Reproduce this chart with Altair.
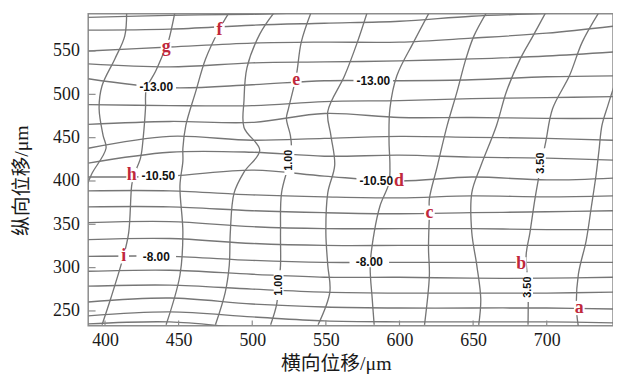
import altair as alt
import pandas as pd

X_TICKS = [400, 450, 500, 550, 600, 650, 700]
Y_TICKS = [250, 300, 350, 400, 450, 500, 550]
X_DOMAIN = [388.6, 745.0]
Y_DOMAIN = [233.0, 593.0]

# Horizontal contours (longitudinal displacement levels); y read at shared x stations
H_LEVELS = [-15.0, -14.5, -14.0, -13.5, -13.0, -12.5, -12.0, -11.5, -11.0, -10.5,
            -10.0, -9.5, -9.0, -8.5, -8.0, -7.5, -7.0, -6.5, -6.0, -5.5]
H_X = [388.6, 444, 500, 549, 600, 649, 700, 745]
H_Y = [
    [588.9, 591.2, 592.4, 594.7, 597.0, 599.3, 601.5, 603.8],
    [574.1, 575.2, 579.8, 582.1, 584.4, 590.1, 593.5, 597.0],
    [550.0, 554.6, 559.2, 560.3, 560.3, 564.9, 570.6, 578.6],
    [535.1, 531.7, 536.3, 537.4, 538.6, 540.9, 544.3, 548.9],
    [518.0, 507.6, 511.1, 515.7, 515.7, 516.8, 520.3, 521.4],
    [488.2, 487.0, 487.0, 491.6, 492.8, 495.1, 496.2, 497.4],
    [465.3, 468.7, 467.6, 477.9, 473.3, 473.3, 472.2, 472.2],
    [437.8, 451.5, 447.0, 449.2, 451.5, 450.4, 449.2, 447.0],
    [420.6, 433.2, 433.2, 428.6, 429.8, 427.5, 426.3, 424.1],
    [404.6, 405.7, 412.6, 405.7, 400.0, 404.6, 401.2, 403.4],
    [388.6, 388.6, 384.0, 381.7, 380.5, 382.8, 381.7, 382.8],
    [370.2, 370.2, 365.7, 363.4, 362.2, 363.4, 364.5, 365.7],
    [351.9, 353.1, 347.3, 345.0, 345.0, 345.0, 343.9, 343.9],
    [332.4, 333.6, 327.9, 325.6, 325.6, 325.6, 325.6, 325.6],
    [313.0, 313.0, 308.4, 306.1, 306.1, 306.1, 306.1, 306.1],
    [295.8, 297.0, 292.4, 288.9, 288.9, 287.8, 287.8, 288.9],
    [278.6, 279.8, 275.2, 271.8, 270.6, 270.6, 270.6, 271.8],
    [260.3, 264.9, 258.0, 254.6, 253.4, 253.4, 253.4, 252.3],
    [244.3, 248.9, 243.1, 238.5, 237.4, 237.4, 237.4, 236.3],
    [235.1, 237.4, 230.0, 228.0, 228.0, 228.0, 228.0, 228.0],
]

# Vertical contours (transverse displacement levels)
V_LEVELS = [-1.0, -0.5, 0.0, 0.5, 1.0, 1.5, 2.0, 2.5, 3.0, 3.5, 4.0]
V_X = [
    [414.7, 413.4, 406.7, 398.0, 396.0, 398.7, 400.7, 391.3, 388.6, 386.0],
    [447.5, 442.9, 440.9, 434.2, 428.1, 427.5, 426.1, 424.1, 419.4, 418.1, 416.1, 412.7, 404.0, 398.0],
    [484.4, 477.7, 468.3, 461.6, 454.9, 452.9, 452.9, 450.9, 452.9, 450.9, 441.5],
    [514.5, 505.1, 496.4, 494.4, 494.4, 505.1, 494.4, 487.7, 485.1, 484.4, 481.7, 475.0],
    [540.0, 533.3, 529.9, 524.6, 523.2, 525.9, 526.6, 524.6, 519.9, 519.2, 519.2, 517.9, 516.5, 512.5],
    [578.1, 571.4, 562.7, 551.3, 553.4, 556.0, 551.3, 550.0, 551.3, 552.7, 544.7],
    [620.3, 609.6, 598.2, 593.5, 592.9, 593.5, 592.9, 586.8, 582.8, 580.1, 581.5, 582.8],
    [659.2, 650.5, 645.1, 639.1, 632.4, 625.7, 620.3, 620.3, 619.7, 620.3, 617.0],
    [699.4, 690.6, 682.0, 672.6, 665.9, 655.2, 649.1, 649.1, 652.5, 655.2, 653.8],
    [735.5, 724.1, 715.4, 704.0, 699.4, 696.0, 692.0, 688.6, 686.0, 687.3, 687.3],
    [746.9, 741.5, 737.5, 735.5, 733.5, 730.2, 726.8, 721.5, 720.1, 721.5],
]
V_Y = [
    [594.7, 567.2, 540.9, 509.9, 483.6, 452.7, 437.8, 409.2, 398.9, 392.0],
    [594.7, 560.3, 552.3, 526.0, 506.5, 483.6, 452.7, 426.3, 405.7, 394.3, 340.5, 314.1, 264.9, 234.0],
    [594.7, 575.2, 540.9, 503.1, 464.1, 437.8, 422.9, 394.3, 340.5, 291.2, 234.0],
    [593.5, 569.5, 530.6, 492.8, 461.8, 435.5, 410.3, 386.3, 340.5, 302.7, 271.8, 234.0],
    [594.7, 560.3, 521.4, 483.6, 472.2, 452.7, 437.8, 418.3, 386.3, 340.5, 302.7, 279.8, 256.9, 234.0],
    [594.7, 560.3, 521.4, 480.2, 452.7, 418.3, 386.3, 340.5, 302.7, 271.8, 234.0],
    [594.7, 560.3, 521.4, 483.6, 445.8, 418.3, 397.7, 371.4, 340.5, 302.7, 263.7, 234.0],
    [594.7, 567.2, 540.9, 503.1, 464.1, 417.2, 379.4, 363.4, 322.1, 291.2, 234.0],
    [594.7, 567.2, 540.9, 503.1, 464.1, 417.2, 386.3, 340.5, 302.7, 263.7, 234.0],
    [594.7, 560.3, 521.4, 483.6, 445.8, 417.2, 379.4, 340.5, 314.1, 279.8, 234.0],
    [515.7, 487.0, 464.1, 435.5, 406.9, 369.1, 331.3, 292.4, 254.6, 231.7],
]

# Point markers
LETTERS = ["a", "b", "c", "d", "e", "f", "g", "h", "i"]
LETTER_X = [722.1, 682.6, 620.3, 599.6, 529.9, 477.7, 441.5, 418.1, 412.7]
LETTER_Y = [253.4, 303.8, 363.4, 400.0, 516.8, 574.1, 554.6, 406.9, 313.0]

# Contour labels
H_LABELS = ["-13.00", "-13.00", "-10.50", "-10.50", "-8.00", "-8.00"]
H_LABEL_X = [434.8, 582.2, 436.2, 584.2, 434.8, 579.5]
H_LABEL_Y = [508.0, 515.7, 405.7, 400.0, 311.8, 306.1]
V_LABELS = ["1.00", "1.00", "3.50", "3.50"]
V_LABEL_X = [525.2, 517.9, 696.0, 687.3]
V_LABEL_Y = [424.0, 279.8, 420.6, 277.5]

rows = []
for i, ys_ in enumerate(H_Y):
    for j, (x, y) in enumerate(zip(H_X, ys_)):
        rows.append({"line": f"h{i}", "ord": j, "x": x, "y": y})
for k, (xs_, ys_) in enumerate(zip(V_X, V_Y)):
    for j, (x, y) in enumerate(zip(xs_, ys_)):
        rows.append({"line": f"v{k}", "ord": j, "x": x, "y": y})
lines_df = pd.DataFrame(rows)

letters_df = pd.DataFrame({"t": LETTERS, "x": LETTER_X, "y": LETTER_Y})
hl_df = pd.DataFrame({"t": H_LABELS, "x": H_LABEL_X, "y": H_LABEL_Y})
vl_df = pd.DataFrame({"t": V_LABELS, "x": V_LABEL_X, "y": V_LABEL_Y})
xt_df = pd.DataFrame({"x": X_TICKS, "y": [Y_DOMAIN[0]] * len(X_TICKS),
                      "y2": [Y_DOMAIN[0] + 6.0] * len(X_TICKS)})
yt_df = pd.DataFrame({"y": Y_TICKS, "x": [X_DOMAIN[0]] * len(Y_TICKS),
                      "x2": [X_DOMAIN[0] + 5.0] * len(Y_TICKS)})

SERIF = "'Liberation Serif', 'Noto Sans CJK SC', serif"
xs = alt.Scale(domain=X_DOMAIN, nice=False, zero=False)
ys = alt.Scale(domain=Y_DOMAIN, nice=False, zero=False)

x_axis = alt.Axis(values=X_TICKS, title="横向位移/μm", grid=False, ticks=False, tickSize=0,
                  domain=False, labelFont=SERIF, labelFontSize=18, labelColor="#1a1a1a",
                  labelPadding=6, titleFont=SERIF, titleFontSize=20, titleFontWeight="normal",
                  titleColor="#1a1a1a", titleX=250, titleY=38, titleBaseline="middle",
                  titleAlign="center")
y_axis = alt.Axis(values=Y_TICKS, title="纵向位移/μm", grid=False, ticks=False, tickSize=0,
                  domain=False, labelFont=SERIF, labelFontSize=18, labelColor="#1a1a1a",
                  labelPadding=9, titleFont=SERIF, titleFontSize=20, titleFontWeight="normal",
                  titleColor="#1a1a1a", titleX=-67, titleY=168, titleBaseline="middle",
                  titleAlign="center", titleAngle=270)

X = alt.X("x:Q", scale=xs, axis=x_axis)
Y = alt.Y("y:Q", scale=ys, axis=y_axis)

contours = alt.Chart(lines_df).mark_line(
    clip=True, interpolate="catmull-rom", color="#767676", strokeWidth=1.35
).encode(x=X, y=Y, detail="line:N", order="ord:Q")

xticks = alt.Chart(xt_df).mark_rule(color="#8c8c8c", strokeWidth=1.2).encode(
    x=X, y=Y, y2="y2:Q")
yticks = alt.Chart(yt_df).mark_rule(color="#8c8c8c", strokeWidth=1.2).encode(
    y=Y, x=X, x2="x2:Q")

hbox = alt.Chart(hl_df).mark_point(
    shape="M-2,-0.5H2V0.5H-2Z", size=400, filled=True, fill="white", opacity=1, strokeWidth=0
).encode(x=X, y=Y)
vbox = alt.Chart(vl_df).mark_point(
    shape="M-0.5,-1.5H0.5V1.5H-0.5Z", size=400, filled=True, fill="white", opacity=1, strokeWidth=0
).encode(x=X, y=Y)
lbox = alt.Chart(letters_df).mark_point(
    shape="M-0.45,-0.6H0.45V0.6H-0.45Z", size=576, filled=True, fill="white", opacity=1, strokeWidth=0
).encode(x=X, y=Y)

htext = alt.Chart(hl_df).mark_text(
    font="'Liberation Sans', Arial, sans-serif", fontSize=12, fontWeight="bold", color="#111111",
    align="center", baseline="middle"
).encode(x=X, y=Y, text="t:N")
vtext = alt.Chart(vl_df).mark_text(
    font="'Liberation Sans', Arial, sans-serif", fontSize=11, fontWeight="bold", color="#111111",
    align="center", baseline="middle", angle=270
).encode(x=X, y=Y, text="t:N")
ltext = alt.Chart(letters_df).mark_text(
    font="'Liberation Serif', serif", fontSize=18, fontWeight="bold", color="#c0283c",
    align="center", baseline="middle"
).encode(x=X, y=Y, text="t:N")

chart = alt.layer(
    contours, xticks, yticks, hbox, vbox, lbox, htext, vtext, ltext
).properties(
    width=530, height=315,
    autosize=alt.AutoSizeParams(type="none"),
    padding={"left": 81, "top": 4, "right": 0, "bottom": 50},
).configure_view(stroke="#8c8c8c", strokeWidth=1.5)

chart.save("out.html", embed_options={"renderer": "svg", "actions": False})
